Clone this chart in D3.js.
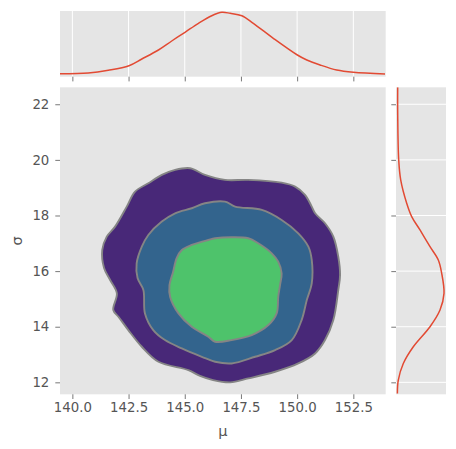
<!DOCTYPE html>
<html>
<head>
<meta charset="utf-8">
<script src="https://cdn.jsdelivr.net/npm/d3@7"></script>
<style>
    body { margin: 0; background: #ffffff; }
    svg { display: block; font-family: "DejaVu Sans", sans-serif; }
    .tick text { fill: #555555; font-size: 13.3px; font-family: "DejaVu Sans", sans-serif; }
    .tick line { stroke: #555555; stroke-width: 0.8; }
</style>
</head>
<body>
<svg id="chart" width="456" height="449"></svg>
<script>
// 刻度
const muTicks = [140, 142.5, 145, 147.5, 150, 152.5]
const sigmaTicks = [12, 14, 16, 18, 20, 22]

// 三层等高线 [mu, sigma]
const outerLevel = [
    [145.24, 19.70], [145.90, 19.46], [146.79, 19.28], [147.83, 19.28], [149.31, 19.18],
    [149.91, 19.04], [150.35, 18.74], [150.65, 18.32], [150.80, 18.08], [151.24, 17.72],
    [151.61, 17.24], [151.83, 16.52], [151.91, 15.86], [151.83, 15.32], [151.61, 14.24],
    [151.24, 13.52], [150.80, 13.04], [150.05, 12.68], [149.02, 12.38], [147.83, 12.14],
    [147.02, 12.00], [146.26, 12.08], [145.68, 12.23], [145.16, 12.44], [143.83, 12.74],
    [143.09, 13.28], [142.49, 13.88], [142.05, 14.36], [141.82, 14.60], [141.98, 15.20],
    [141.68, 15.68], [141.41, 16.11], [141.33, 16.76], [141.53, 17.24], [141.90, 17.60],
    [142.42, 18.32], [142.79, 18.86], [143.38, 19.16], [143.98, 19.46], [144.57, 19.64],
]
const middleLevel = [
    [146.79, 18.50], [147.24, 18.32], [148.43, 18.20], [149.31, 17.84], [150.05, 17.36],
    [150.50, 16.88], [150.65, 16.40], [150.65, 15.56], [150.43, 14.96], [150.20, 14.24],
    [149.76, 13.52], [149.02, 13.16], [148.13, 12.92], [147.09, 12.68], [146.35, 12.74],
    [145.76, 12.92], [144.87, 13.22], [144.12, 13.52], [143.60, 13.88], [143.23, 14.48],
    [143.16, 15.32], [142.90, 15.75], [142.86, 16.28], [143.09, 16.88], [143.38, 17.30],
    [143.98, 17.78], [144.57, 18.08], [145.31, 18.26], [145.90, 18.44],
]
const innerLevel = [
    [146.35, 17.18], [147.83, 17.18], [148.27, 17.00], [148.87, 16.64], [149.16, 16.34],
    [149.31, 15.92], [149.24, 15.50], [149.16, 15.08], [149.09, 14.48], [148.72, 14.06],
    [147.98, 13.70], [147.09, 13.52], [146.35, 13.46], [146.05, 13.64], [145.31, 14.00],
    [144.72, 14.48], [144.35, 15.07], [144.32, 15.50], [144.48, 15.97], [144.64, 16.47],
    [144.87, 16.76], [145.31, 16.94], [146.05, 17.12],
]
const levelColors = ['#482878', '#33648d', '#4ec36b']

// 边缘密度 [mu, density] 与 [sigma, density]
const muDensity = [
    [139.45, 0.0027], [140.71, 0.0049], [141.60, 0.0137], [142.52, 0.0285], [143.09, 0.0501],
    [143.83, 0.0792], [144.42, 0.1082], [145.01, 0.1363], [145.61, 0.1653], [146.20, 0.1898],
    [146.65, 0.2008], [147.02, 0.1976], [147.54, 0.1898], [148.05, 0.1653], [148.94, 0.1169],
    [150.01, 0.0630], [150.43, 0.0469], [151.02, 0.0308], [151.76, 0.0146], [152.50, 0.0072],
    [153.91, 0.0017],
]
const sigmaDensity = [
    [22.61, 0.0018], [21.68, 0.0018], [20.00, 0.0076], [19.28, 0.0191], [18.44, 0.0536],
    [17.96, 0.0824], [17.48, 0.1302], [16.88, 0.1879], [16.40, 0.2357], [15.92, 0.2552],
    [15.20, 0.2685], [14.60, 0.2455], [14.00, 0.1879], [13.28, 0.0917], [12.68, 0.0341],
    [12.08, 0.0052], [11.60, 0.0000],
]

const svg = d3.select('#chart')
const bg = '#e5e5e5'

// 主图区域
const main = { left: 60, right: 385.7, top: 87.3, bottom: 394.3 }
const topBox = { top: 11, bottom: 76.7 }
const rightBox = { left: 396, right: 446 }

const x = d3.scaleLinear([139.45, 153.94], [main.left, main.right])
const y = d3.scaleLinear([11.57, 22.61], [main.bottom, main.top])
const topY = d3.scaleLinear([-0.007, 0.205], [topBox.bottom, topBox.top])
const rightX = d3.scaleLinear([-0.008, 0.28], [rightBox.left, rightBox.right])

const defs = svg.append('defs')

function panel(id, x0, y0, x1, y1) {
    svg.append('rect')
        .attr('x', x0).attr('y', y0)
        .attr('width', x1 - x0).attr('height', y1 - y0)
        .attr('fill', bg)
    defs.append('clipPath').attr('id', id)
        .append('rect')
        .attr('x', x0).attr('y', y0)
        .attr('width', x1 - x0).attr('height', y1 - y0)
}

panel('clip-main', main.left, main.top, main.right, main.bottom)
panel('clip-top', main.left, topBox.top, main.right, topBox.bottom)
panel('clip-right', rightBox.left, main.top, rightBox.right, main.bottom)

// 边缘图的网格线
svg.append('g')
    .selectAll('line')
    .data(muTicks)
    .join('line')
    .attr('x1', d => x(d)).attr('x2', d => x(d))
    .attr('y1', topBox.top).attr('y2', topBox.bottom)
    .attr('stroke', '#ffffff')
    .attr('stroke-width', 1)

svg.append('g')
    .selectAll('line')
    .data(sigmaTicks)
    .join('line')
    .attr('x1', rightBox.left).attr('x2', rightBox.right)
    .attr('y1', d => y(d)).attr('y2', d => y(d))
    .attr('stroke', '#ffffff')
    .attr('stroke-width', 1)

// 等高线, 由外到内叠加
const contourLine = d3.line()
    .x(d => x(d[0]))
    .y(d => y(d[1]))
    .curve(d3.curveCatmullRomClosed.alpha(0.5))

svg.append('g')
    .attr('clip-path', 'url(#clip-main)')
    .selectAll('path')
    .data([outerLevel, middleLevel, innerLevel])
    .join('path')
    .attr('d', d => contourLine(d))
    .attr('fill', (d, i) => levelColors[i])
    .attr('stroke', '#858585')
    .attr('stroke-width', 1.9)
    .attr('stroke-linejoin', 'round')

// 边缘密度曲线
svg.append('path')
    .attr('clip-path', 'url(#clip-top)')
    .attr('d', d3.line()
        .x(d => x(d[0]))
        .y(d => topY(d[1]))
        .curve(d3.curveCatmullRom)(muDensity))
    .attr('fill', 'none')
    .attr('stroke', '#e24a33')
    .attr('stroke-width', 1.5)

svg.append('path')
    .attr('clip-path', 'url(#clip-right)')
    .attr('d', d3.line()
        .x(d => rightX(d[1]))
        .y(d => y(d[0]))
        .curve(d3.curveCatmullRom)(sigmaDensity))
    .attr('fill', 'none')
    .attr('stroke', '#e24a33')
    .attr('stroke-width', 1.5)

// 坐标轴
function styleAxis(g) {
    g.select('.domain').remove()
}

svg.append('g')
    .attr('transform', `translate(0,${main.bottom})`)
    .call(d3.axisBottom(x).tickValues(muTicks).tickFormat(d3.format('.1f'))
        .tickSize(4.7).tickPadding(4))
    .call(styleAxis)

svg.append('g')
    .attr('transform', `translate(${main.left},0)`)
    .call(d3.axisLeft(y).tickValues(sigmaTicks).tickSize(4.7).tickPadding(6))
    .call(styleAxis)

svg.append('g')
    .attr('transform', `translate(0,${topBox.bottom})`)
    .call(d3.axisBottom(x).tickValues(muTicks).tickFormat('').tickSize(4.7))
    .call(styleAxis)

svg.append('g')
    .attr('transform', `translate(${rightBox.left},0)`)
    .call(d3.axisLeft(y).tickValues(sigmaTicks).tickFormat('').tickSize(4.7))
    .call(styleAxis)

// 轴标题
svg.append('text')
    .attr('x', (main.left + main.right) / 2)
    .attr('y', 436)
    .attr('text-anchor', 'middle')
    .attr('fill', '#555555')
    .attr('font-size', '14.5px')
    .text('μ')

svg.append('text')
    .attr('transform', `translate(22,${(main.top + main.bottom) / 2}) rotate(-90)`)
    .attr('text-anchor', 'middle')
    .attr('fill', '#555555')
    .attr('font-size', '14.5px')
    .text('σ')
</script>
</body>
</html>
